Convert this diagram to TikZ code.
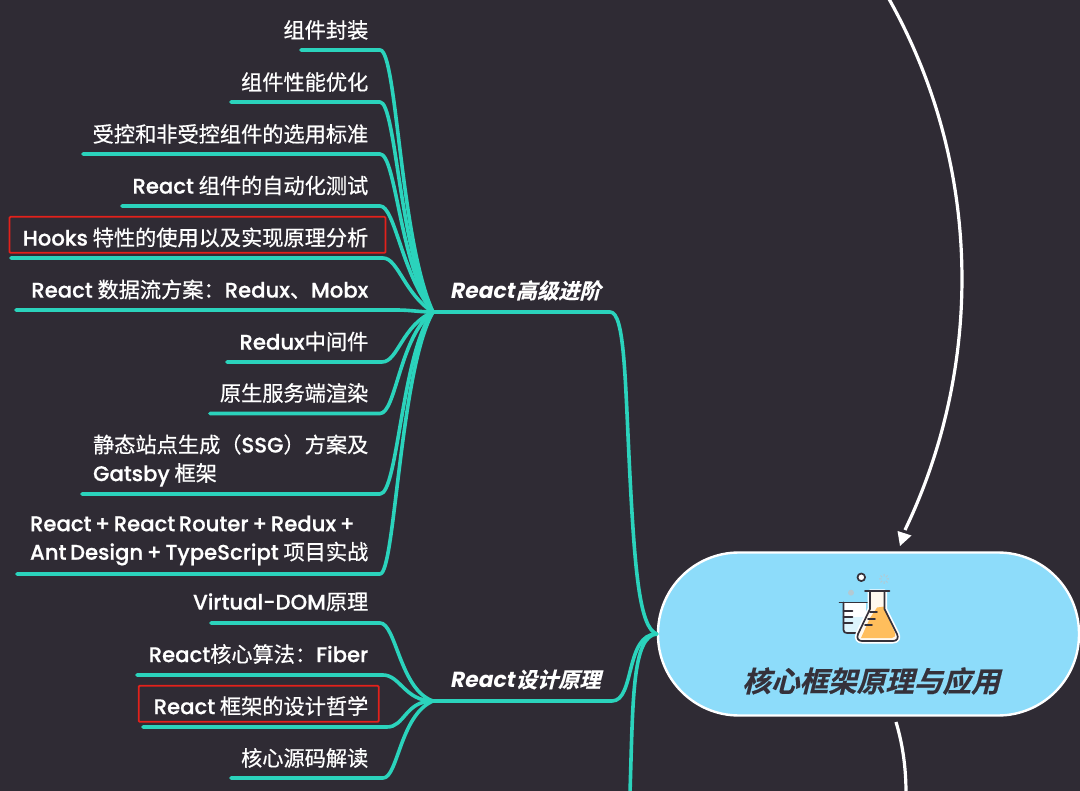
\documentclass[tikz,border=0pt]{standalone}
\usepackage{fontspec}
\setmainfont{Noto Sans CJK SC}[FakeBold=0.6]
\newfontfamily\lat{Poppins Medium}[Scale=1.0,FakeBold=0.6,WordSpace=0.65]
\newfontfamily\tlat{Poppins}[BoldFont=Poppins Bold,BoldItalicFont=Poppins Bold Italic,ItalicFont=Poppins Italic,Scale=1.03]
\newfontfamily\tcjk{Noto Sans CJK SC Bold}[FakeSlant=0.25,FakeBold=0.5]
\newcommand{\LL}[1]{{\lat #1}}
\newcommand{\TL}[1]{{\tlat\bfseries\itshape #1}}
\definecolor{bg}{HTML}{2F2B34}
\definecolor{teal}{HTML}{2BD3BC}
\definecolor{sky}{HTML}{8DDCFA}
\definecolor{redbox}{HTML}{E3211B}
\definecolor{ink}{HTML}{35313A}
\definecolor{orange}{HTML}{FFBE5C}
\definecolor{greyish}{HTML}{B4C9D2}
\tikzset{
  x=1pt,y=-1pt,
  leaf/.style={anchor=east,inner sep=0pt,text=white,font=\fontsize{21.2}{28.5}\selectfont,align=left},
  twig/.style={draw=teal,line width=3.6pt,line cap=round,line join=round},
  hl/.style={draw=redbox,line width=1.8pt,rounded corners=1pt},
  branchlabel/.style={anchor=west,inner sep=0pt,text=white,font=\fontsize{21.2}{24}\selectfont},
  wire/.style={draw=white,line width=3.2pt},
  rootnode/.style={draw=white,line width=2.4pt,fill=sky,rounded corners=81pt,minimum width=421pt,minimum height=163pt,inner sep=0pt},
  icon/.style={draw=ink,line width=1.7pt,line join=round,line cap=round},
}
\begin{document}
\begin{tikzpicture}
\useasboundingbox (0,0) rectangle (1080,791);
\fill[bg] (0,0) rectangle (1080,791);

% highlight boxes
\node[hl,minimum width=376pt,minimum height=36pt,inner sep=0pt] (boxA) at (197.5,234.8) {};
\node[hl,minimum width=240pt,minimum height=36pt,inner sep=0pt] (boxB) at (258.7,703.8) {};

% root
\node[rootnode] (root) at (868.5,634) {};
\node[inner sep=0pt,text=ink,font=\fontsize{28.6}{30}\selectfont] (roottitle) at (871,681) {\tcjk 核心框架原理与应用};

% branch labels
\coordinate (hubA) at (433,312);
\coordinate (hubB) at (433,701);
\coordinate (bendA) at (610,312);
\coordinate (midA) at (630,477);
\coordinate (bendB) at (612,701);
\node[branchlabel] (labA) at (451,290.5) {\TL{React}\tcjk 高级进阶};
\node[branchlabel] (labB) at (451,679.5) {\TL{React}\tcjk 设计原理};

% leaves
\node[leaf] (a1) at (368.5,30) {组件封装};
\node[leaf] (a2) at (368.5,82) {组件性能优化};
\node[leaf] (a3) at (368.5,134) {受控和非受控组件的选用标准};
\node[leaf] (a4) at (368.5,185.5) {\LL{React} 组件的自动化测试};
\node[leaf] (a5) at (368.5,237.5) {\LL{Hooks} 特性的使用以及实现原理分析};
\node[leaf] (a6) at (368.5,289.5) {\LL{React} 数据流方案：\LL{Redux}、\LL{Mobx}};
\node[leaf] (a7) at (368.5,341.5) {\LL{Redux}中间件};
\node[leaf] (a8) at (368.5,393) {原生服务端渲染};
\node[leaf] (a9) at (368.5,460.5) {静态站点生成（\LL{SSG}）方案及\\\LL{Gatsby} 框架};
\node[leaf] (a10) at (368.5,540.5) {\LL{React + React Router + Redux +}\\\LL{Ant Design + TypeScript} 项目实战};
\node[leaf] (b1) at (368.5,602) {\LL{Virtual-DOM}原理};
\node[leaf] (b2) at (368.5,654) {\LL{React}核心算法：\LL{Fiber}};
\node[leaf] (b3) at (368.5,706) {\LL{React} 框架的设计哲学};
\node[leaf] (b4) at (368.5,758) {核心源码解读};

% free ends of the underlines
\coordinate (sa1) at (301,50);
\coordinate (sa2) at (231,102);
\coordinate (sa3) at (83,154);
\coordinate (sa4) at (122,206);
\coordinate (sa5) at (11,258);
\coordinate (sa6) at (16,310);
\coordinate (sa7) at (227,362);
\coordinate (sa8) at (210,413.5);
\coordinate (sa9) at (82,494);
\coordinate (sa10) at (17,574);
\coordinate (sb1) at (211,623);
\coordinate (sb2) at (137,675);
\coordinate (sb3) at (143,727);
\coordinate (sb4) at (231,778);
\coordinate (wireA) at (889,-1);
\coordinate (wireD) at (905,530);
\coordinate (wireB) at (896,722);
\coordinate (wireC) at (906,793);
\coordinate (stemC) at (630,793);

% connectors
\draw[twig] (sa1) -- (380,50) .. controls (397,50) and (400,240) .. (hubA);
\draw[twig] (sa2) -- (380,102) .. controls (396,102) and (400,255) .. (hubA);
\draw[twig] (sa3) -- (380,154) .. controls (396,154) and (400,265) .. (hubA);
\draw[twig] (sa4) -- (380,206) .. controls (395,206) and (402,275) .. (hubA);
\draw[twig] (sa5) -- (383,258) .. controls (398,258) and (405,295) .. (hubA);
\draw[twig] (sa6) -- (397,310) .. controls (410,310) and (420,312) .. (hubA);
\draw[twig] (sa7) -- (382,362) .. controls (398,362) and (402,325) .. (hubA);
\draw[twig] (sa8) -- (380,413.5) .. controls (396,413.5) and (400,335) .. (hubA);
\draw[twig] (sa9) -- (380,494) .. controls (398,494) and (402,350) .. (hubA);
\draw[twig] (sa10) -- (380,574) .. controls (395,574) and (400,370) .. (hubA);
\draw[twig] (hubA) -- (bendA) .. controls (625,312) and (625,380) .. (midA) .. controls (635,574) and (640,628) .. (root.west);

\draw[twig] (sb1) -- (380,623) .. controls (396,623) and (400,690) .. (hubB);
\draw[twig] (sb2) -- (383,675) .. controls (400,675) and (405,701) .. (hubB);
\draw[twig] (sb3) -- (387,727) .. controls (405,727) and (405,701) .. (hubB);
\draw[twig] (sb4) -- (383,778) .. controls (398,778) and (400,715) .. (hubB);
\draw[twig] (hubB) -- (bendB) .. controls (635,701) and (625,634) .. (root.west);
\draw[twig] (stemC) .. controls (633,700) and (632,636) .. (root.west);

% white links
\draw[wire] (wireA) .. controls (985,170) and (982,370) .. (wireD);
\fill[white] (900,546) -- (897.5,531) -- (911.5,535.5) -- cycle;
\draw[wire] (wireB) .. controls (902,742) and (906,765) .. (wireC);

% icon
\fill[greyish] (851,592.7) circle (3pt);
\draw[greyish,line width=1pt] (884,574) -- (884,576.5) (884,581.5) -- (884,584) (879,579) -- (881.5,579) (886.5,579) -- (889,579) (880.5,575.5) -- (882.2,577.2) (885.8,580.8) -- (887.5,582.5) (880.5,582.5) -- (882.2,580.8) (885.8,577.2) -- (887.5,575.5);
\draw[icon,fill=white] (861.3,577.3) circle (3.8pt);
% beaker
\fill[white] (843.5,603) rectangle (866,632.5);
\fill[white!70!sky] (843.5,617) rectangle (864,632.5);
\draw[icon] (839.5,602.5) -- (869,602.5);
\draw[icon] (843.5,602.5) -- (843.5,630) .. controls (843.5,632) and (845,633) .. (847,633) -- (860,633);
\draw[icon] (843.5,611) -- (852.5,611) (843.5,617) -- (852.5,617) (843.5,623) -- (852.5,623);
% flask
\draw[white,line width=5pt,line join=round] (870,592) -- (870,609) -- (858,634) .. controls (856,639) and (859,641) .. (862,641) -- (893,641) .. controls (897,641) and (899,638) .. (897,634) -- (884.5,609) -- (884.5,592) -- cycle;
\fill[white!90!orange] (870,592) -- (870,609) -- (858,634) .. controls (856,639) and (859,641) .. (862,641) -- (893,641) .. controls (897,641) and (899,638) .. (897,634) -- (884.5,609) -- (884.5,592) -- cycle;
\fill[orange] (877,607.5) -- (884.5,606.5) -- (884.5,609) -- (895,633) .. controls (896,636) and (894,638) .. (892,638) -- (861,638) -- (870,618) -- cycle;
\draw[icon] (870,592) -- (870,609) -- (858,634) .. controls (856,639) and (859,641) .. (862,641) -- (893,641) .. controls (897,641) and (899,638) .. (897,634) -- (884.5,609) -- (884.5,592);
\draw[icon] (865,591.3) -- (889.5,591.3);
\draw[icon] (870,612.3) -- (877,612.3) (868,619) -- (875,619) (865,625.3) -- (872,625.3);
\end{tikzpicture}
\end{document}
